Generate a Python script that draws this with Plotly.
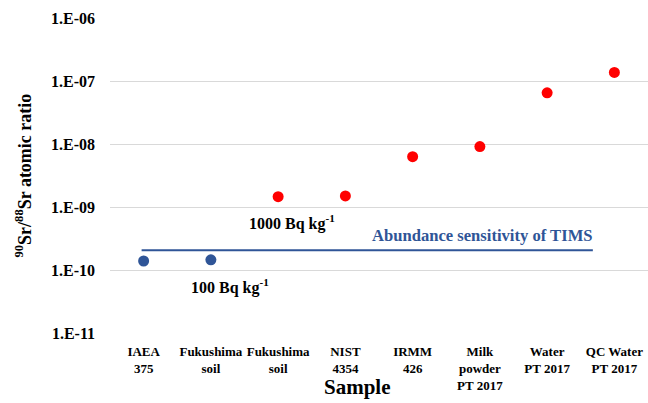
import plotly.graph_objects as go

categories = ["IAEA<br>375", "Fukushima<br>soil", "Fukushima<br>soil", "NIST<br>4354", "IRMM<br>426",
              "Milk<br>powder<br>PT 2017", "Water<br>PT 2017", "QC Water<br>PT 2017"]
blue_idx = [0, 1]
blue_vals = [1.39e-10, 1.45e-10]
red_idx = [2, 3, 4, 5, 6, 7]
red_vals = [1.46e-9, 1.50e-9, 6.3e-9, 9.1e-9, 6.5e-8, 1.37e-7]
sens_x = [-0.03, 6.68]
sens_vals = [2.06e-10, 2.06e-10]
ytick_vals = [1e-11, 1e-10, 1e-9, 1e-8, 1e-7, 1e-6]
ytick_text = ["1.E-11", "1.E-10", "1.E-09", "1.E-08", "1.E-07", "1.E-06"]

FONT = "Liberation Serif, Times New Roman, serif"
BLUE = "#2F5597"
RED = "#FF0000"

fig = go.Figure()
fig.add_trace(go.Scatter(x=sens_x, y=sens_vals, mode="lines",
                         line=dict(color=BLUE, width=2), showlegend=False, hoverinfo="skip"))
fig.add_trace(go.Scatter(x=blue_idx, y=blue_vals, mode="markers",
                         marker=dict(color=BLUE, size=11), showlegend=False))
fig.add_trace(go.Scatter(x=red_idx, y=red_vals, mode="markers",
                         marker=dict(color=RED, size=11), showlegend=False))

fig.add_annotation(x=sens_x[1], y=-9.687, xref="x", yref="y", text="<b>Abundance sensitivity of TIMS</b>",
                   showarrow=False, xanchor="right", yanchor="bottom", yshift=3, xshift=2,
                   font=dict(family=FONT, size=16.6, color=BLUE))
fig.add_annotation(x=2.2, y=-8.836, xref="x", yref="y", text="<b>1000 Bq kg<sup>-1</sup></b>",
                   showarrow=False, xanchor="center", yanchor="top", yshift=-13,
                   font=dict(family=FONT, size=16, color="black"))
fig.add_annotation(x=1.28, y=-9.85, xref="x", yref="y", text="<b>100 Bq kg<sup>-1</sup></b>",
                   showarrow=False, xanchor="center", yanchor="top", yshift=-13,
                   font=dict(family=FONT, size=16, color="black"))
fig.add_annotation(x=0.5, y=0, xref="paper", yref="paper", text="<b>Sample</b>",
                   showarrow=False, xanchor="center", yanchor="top", yshift=-40, xshift=-22,
                   font=dict(family=FONT, size=21, color="black"))
fig.add_annotation(x=0, y=0.5, xref="paper", yref="paper",
                   text="<b><sup>90</sup>Sr/<sup>88</sup>Sr atomic ratio</b>",
                   showarrow=False, xanchor="center", yanchor="middle", xshift=-86, textangle=-90,
                   font=dict(family=FONT, size=18, color="black"))

fig.update_layout(
    width=648, height=403,
    margin=dict(l=110, r=0, t=18, b=70),
    paper_bgcolor="white", plot_bgcolor="white",
    font=dict(family=FONT, color="black"),
    xaxis=dict(
        range=[-0.5, 7.5],
        tickvals=list(range(len(categories))),
        ticktext=[f"<b>{c}</b>" for c in categories],
        tickfont=dict(family=FONT, size=13, color="black"),
        tickangle=0, automargin=False,
        showgrid=False, zeroline=False, showline=False, ticks="", ticklabelstandoff=9,
    ),
    yaxis=dict(
        type="log", range=[-11, -6],
        tickvals=ytick_vals,
        ticktext=[f"<b>{t}</b>" for t in ytick_text],
        tickfont=dict(family=FONT, size=16, color="black"),
        showgrid=True, gridcolor="#d9d9d9", gridwidth=1, automargin=False,
        zeroline=False, showline=False, ticks="", ticklabelstandoff=14,
    ),
)

fig.write_html("out.html")
